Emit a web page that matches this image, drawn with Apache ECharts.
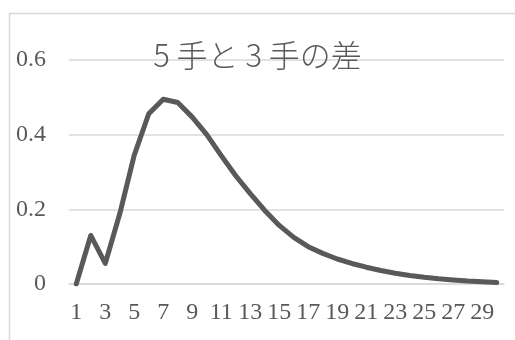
<!DOCTYPE html>
<html>
<head>
<meta charset="utf-8">
<script src="https://cdn.jsdelivr.net/npm/echarts@6/dist/echarts.min.js"></script>
<style>
  html, body { margin: 0; padding: 0; background: #fff; }
  #chart { width: 515px; height: 340px; }
</style>
</head>
<body>
<div id="chart"></div>
<script>
// Move counts 1..30 along the x axis
const categories = [1,2,3,4,5,6,7,8,9,10,11,12,13,14,15,16,17,18,19,20,21,22,23,24,25,26,27,28,29,30];
// Difference between the 5-move and 3-move values
const diffValues = [0, 0.13, 0.055, 0.188, 0.345, 0.456, 0.495, 0.486, 0.447, 0.40,
  0.344, 0.29, 0.242, 0.197, 0.157, 0.125, 0.10, 0.082, 0.067, 0.055,
  0.045, 0.036, 0.029, 0.023, 0.018, 0.014, 0.011, 0.008, 0.006, 0.004];
const yTicks = [0, 0.2, 0.4, 0.6];
const titleText = '5 手と 3 手の差';

const chart = echarts.init(document.getElementById('chart'), null, { renderer: 'canvas' });
const serif = '"Liberation Serif", "DejaVu Serif", serif';
const ink = '#595959';

chart.setOption({
  animation: false,
  backgroundColor: '#fff',
  title: {
    text: titleText,
    left: 'center',
    top: 35,
    textStyle: { fontFamily: '"Noto Sans CJK JP", sans-serif', fontWeight: 300, fontSize: 31, color: ink }
  },
  graphic: [{
    type: 'rect',
    shape: { x: 9.5, y: 13.5, width: 520, height: 340 },
    style: { fill: 'none', stroke: '#d9d9d9', lineWidth: 1.5 },
    silent: true
  }],
  grid: { left: 69, right: 11, top: 60, bottom: 56, containLabel: false },
  xAxis: {
    type: 'category',
    data: categories,
    boundaryGap: true,
    axisLine: { show: true, lineStyle: { color: '#d9d9d9', width: 1.5 } },
    axisTick: { show: false },
    axisLabel: {
      interval: 1,
      margin: 17,
      fontFamily: serif,
      fontSize: 24,
      color: ink
    }
  },
  yAxis: {
    type: 'value',
    min: yTicks[0],
    max: yTicks[yTicks.length - 1],
    interval: 0.2,
    axisLine: { show: false },
    axisTick: { show: false },
    splitLine: { lineStyle: { color: '#d9d9d9', width: 1.5 } },
    axisLabel: {
      margin: 23,
      fontFamily: serif,
      fontSize: 24,
      color: ink,
      formatter: v => String(Math.round(v * 10) / 10)
    }
  },
  series: [{
    type: 'line',
    data: diffValues,
    showSymbol: false,
    smooth: false,
    lineStyle: { color: ink, width: 5, cap: 'round', join: 'round' }
  }]
});
</script>
</body>
</html>
